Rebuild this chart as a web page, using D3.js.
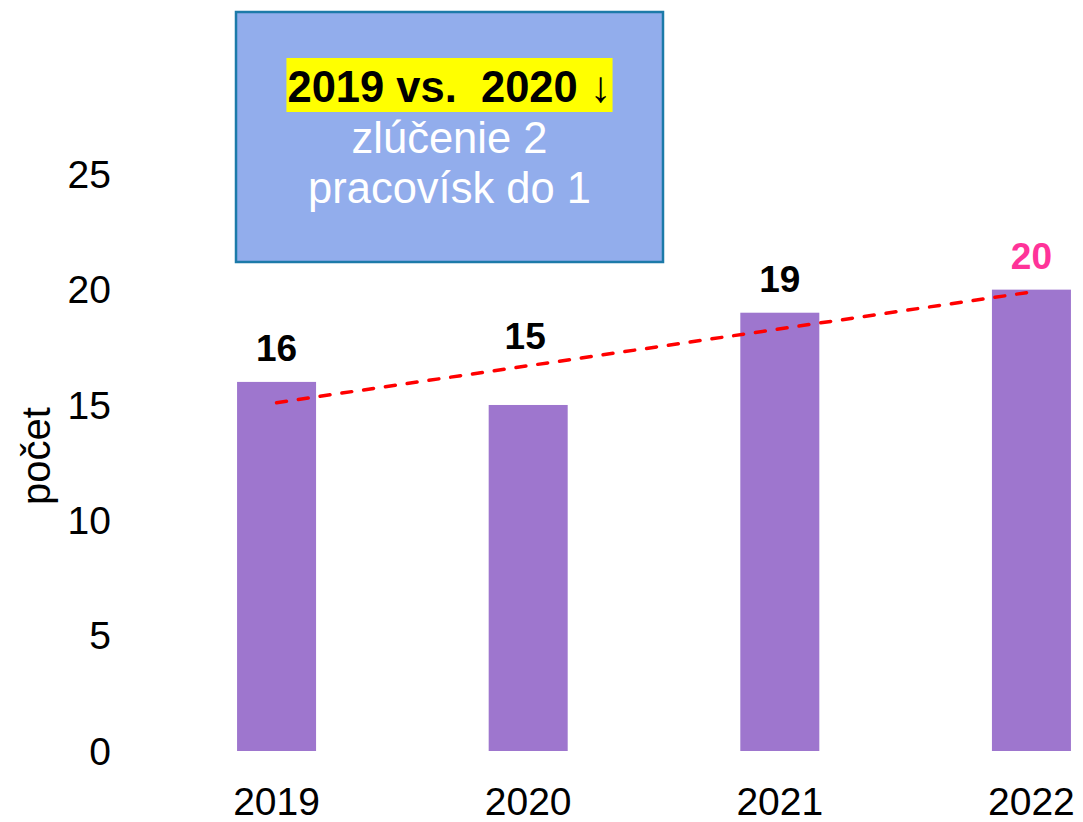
<!DOCTYPE html>
<html>
<head>
<meta charset="utf-8">
<script src="https://cdn.jsdelivr.net/npm/d3@7"></script>
<style>
  body { margin: 0; background: #fff; }
  text { font-family: "Liberation Sans", Arial, Helvetica, sans-serif; }
</style>
</head>
<body>
<script>
// data
const years = ["2019", "2020", "2021", "2022"];
const counts = [16, 15, 19, 20];
const yTicks = [0, 5, 10, 15, 20, 25];
const trendEnds = [15.1, 19.9]; // linear trend at 2019 and 2022
const noteLines = ["2019 vs.  2020 \u2193", "zlúčenie 2", "pracovísk do 1"];

const width = 1083;
const height = 822;

const svg = d3.select("body")
    .append("svg")
    .attr("width", width)
    .attr("height", height);

const x = d3.scaleBand()
    .domain(years)
    .range([150.75, 1157.25])
    .paddingInner(0.686)
    .paddingOuter(0.343);

const y = d3.scaleLinear()
    .domain([0, 25])
    .range([751, 174.3]);

// y tick labels
svg.append("g")
    .selectAll("text")
    .data(yTicks)
    .enter().append("text")
    .attr("x", 111)
    .attr("y", d => y(d))
    .attr("dy", "0.35em")
    .attr("text-anchor", "end")
    .style("font-size", "39px")
    .text(d => d);

// y axis title
svg.append("text")
    .attr("transform", "translate(50," + 456 + ")rotate(-90)")
    .attr("text-anchor", "middle")
    .style("font-size", "40px")
    .text("počet");

// bars
svg.append("g")
    .selectAll("rect")
    .data(counts)
    .enter().append("rect")
    .attr("x", (d, i) => x(years[i]))
    .attr("y", d => y(d))
    .attr("width", x.bandwidth())
    .attr("height", d => y(0) - y(d))
    .style("fill", "#9e76ce");

// x labels
svg.append("g")
    .selectAll("text")
    .data(years)
    .enter().append("text")
    .attr("x", d => x(d) + x.bandwidth() / 2)
    .attr("y", 815)
    .attr("text-anchor", "middle")
    .style("font-size", "39px")
    .text(d => d);

// trend line
const cx = d => x(d) + x.bandwidth() / 2;
svg.append("line")
    .attr("x1", cx(years[0]))
    .attr("y1", y(trendEnds[0]))
    .attr("x2", cx(years[years.length - 1]))
    .attr("y2", y(trendEnds[1]))
    .style("stroke", "#ff0000")
    .style("stroke-width", 3.5)
    .style("stroke-linecap", "round")
    .style("stroke-dasharray", "10,12");

// value labels (2020 sits higher to clear the trend line)
svg.append("g")
    .selectAll("text")
    .data(counts)
    .enter().append("text")
    .attr("x", (d, i) => cx(years[i]) - (i === 1 ? 3 : 0))
    .attr("y", (d, i) => y(d) - (i === 1 ? 56 : 21))
    .attr("text-anchor", "middle")
    .style("font-size", "37px")
    .style("font-weight", "bold")
    .style("fill", (d, i) => i === counts.length - 1 ? "#ff3399" : "#000")
    .text(d => d);

// note box
const note = svg.append("g");
note.append("rect")
    .attr("x", 236)
    .attr("y", 12)
    .attr("width", 427)
    .attr("height", 250)
    .style("fill", "#92adec")
    .style("stroke", "#1c7aa9")
    .style("stroke-width", 2.5);

const hl = note.append("rect").style("fill", "#ffff00");

const noteText = note.selectAll("text.note")
    .data(noteLines)
    .enter().append("text")
    .attr("class", "note")
    .attr("x", 449.5)
    .attr("y", (d, i) => 102 + i * 50.5)
    .attr("text-anchor", "middle")
    .style("font-size", "43.5px")
    .style("white-space", "pre")
    .style("font-weight", (d, i) => i === 0 ? "bold" : "normal")
    .style("fill", (d, i) => i === 0 ? "#000" : "#fff")
    .text(d => d);

const bb = noteText.node().getBBox();
hl.attr("x", bb.x - 1)
    .attr("y", 58)
    .attr("width", bb.width + 2)
    .attr("height", 54);
</script>
</body>
</html>
